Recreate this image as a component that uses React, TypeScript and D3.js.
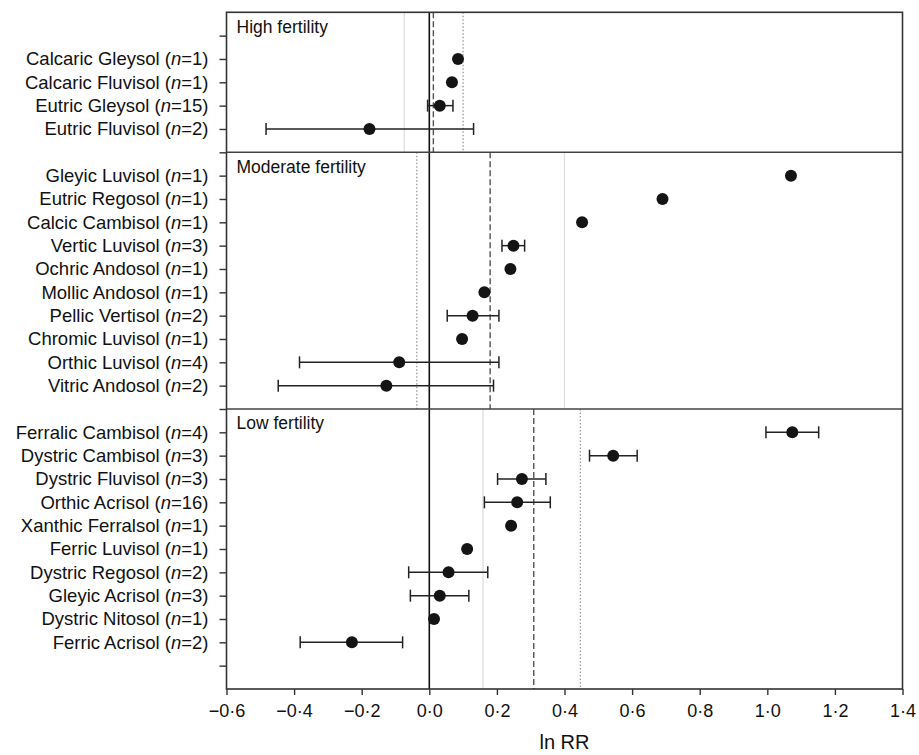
// @ts-nocheck
import { useRef, useEffect } from "react";
import * as d3 from "d3";

// high fertility soils
const highLabels = ["Calcaric Gleysol", "Calcaric Fluvisol", "Eutric Gleysol", "Eutric Fluvisol"];
const highN = [1, 1, 15, 2];
const highMean = [0.085, 0.067, 0.031, -0.177];
const highLower = [null, null, -0.005, -0.483];
const highUpper = [null, null, 0.07, 0.131];
const highRef = [0.012, -0.074, 0.1]; // mean, lower CI, upper CI

// moderate fertility soils
const modLabels = [
  "Gleyic Luvisol", "Eutric Regosol", "Calcic Cambisol", "Vertic Luvisol", "Ochric Andosol",
  "Mollic Andosol", "Pellic Vertisol", "Chromic Luvisol", "Orthic Luvisol", "Vitric Andosol",
];
const modN = [1, 1, 1, 3, 1, 1, 2, 1, 4, 2];
const modMean = [1.07, 0.69, 0.452, 0.249, 0.24, 0.163, 0.128, 0.097, -0.089, -0.127];
const modLower = [null, null, null, 0.215, null, null, 0.053, null, -0.384, -0.447];
const modUpper = [null, null, null, 0.282, null, null, 0.206, null, 0.206, 0.19];
const modRef = [0.18, -0.037, 0.4];

// low fertility soils
const lowLabels = [
  "Ferralic Cambisol", "Dystric Cambisol", "Dystric Fluvisol", "Orthic Acrisol", "Xanthic Ferralsol",
  "Ferric Luvisol", "Dystric Regosol", "Gleyic Acrisol", "Dystric Nitosol", "Ferric Acrisol",
];
const lowN = [4, 3, 3, 16, 1, 1, 2, 3, 1, 2];
const lowMean = [1.074, 0.544, 0.274, 0.26, 0.242, 0.112, 0.057, 0.031, 0.014, -0.229];
const lowLower = [0.996, 0.474, 0.202, 0.163, null, null, -0.061, -0.056, null, -0.382];
const lowUpper = [1.152, 0.615, 0.345, 0.358, null, null, 0.173, 0.117, null, -0.079];
const lowRef = [0.309, 0.159, 0.447];

const panelTitles = ["High fertility", "Moderate fertility", "Low fertility"];
const xTicks = [-0.6, -0.4, -0.2, 0, 0.2, 0.4, 0.6, 0.8, 1.0, 1.2, 1.4];

const FONT = "'Liberation Sans', Arial, Helvetica, sans-serif";

const ForestPlot = ({ width = 919, height = 755 }) => {
  const svgRef = useRef();

  useEffect(() => {
    const svg = d3.select(svgRef.current);
    svg.selectAll("*").remove();

    const panels = [
      { title: panelTitles[0], labels: highLabels, n: highN, mean: highMean, lo: highLower, hi: highUpper, ref: highRef, padTop: 2, padBottom: 1 },
      { title: panelTitles[1], labels: modLabels, n: modN, mean: modMean, lo: modLower, hi: modUpper, ref: modRef, padTop: 1, padBottom: 1 },
      { title: panelTitles[2], labels: lowLabels, n: lowN, mean: lowMean, lo: lowLower, hi: lowUpper, ref: lowRef, padTop: 1, padBottom: 2 },
    ];

    // work out slot positions for each panel
    let slot = 0;
    const rows = [];
    panels.forEach((p) => {
      p.start = slot;
      p.labels.forEach((lab, i) => {
        rows.push({ slot: slot + p.padTop + i, label: lab, n: p.n[i], mean: p.mean[i], lo: p.lo[i], hi: p.hi[i] });
      });
      slot += p.padTop + p.labels.length + p.padBottom - 1;
      p.end = slot;
    });
    const totalSlots = slot;

    const left = 226.5, right = 902.5, top = 12.3, bottom = 689;

    const x = d3.scaleLinear().domain([-0.6, 1.4]).range([left, right]);
    const y = d3.scaleLinear().domain([0, totalSlots]).range([top, bottom]);

    const labelBySlot = new Map(rows.map((r) => [r.slot, r]));

    // reference lines per panel
    panels.forEach((p) => {
      const y0 = y(p.start), y1 = y(p.end);
      const [m, ciLo, ciHi] = p.ref;
      // one CI line is faint in the original, the other dotted
      const faint = p.start === 0 || p.end === totalSlots ? ciLo : ciHi;
      const dotted = faint === ciLo ? ciHi : ciLo;
      svg.append("line")
        .attr("x1", x(faint)).attr("x2", x(faint))
        .attr("y1", y0).attr("y2", y1)
        .attr("stroke", "#dcdcdc").attr("stroke-width", 1.2);
      svg.append("line")
        .attr("x1", x(dotted)).attr("x2", x(dotted))
        .attr("y1", y0).attr("y2", y1)
        .attr("stroke", "#9a9a9a").attr("stroke-width", 1.3)
        .attr("stroke-dasharray", "1.5,2");
      svg.append("line")
        .attr("x1", x(m)).attr("x2", x(m))
        .attr("y1", y0).attr("y2", y1)
        .attr("stroke", "#555").attr("stroke-width", 1.4)
        .attr("stroke-dasharray", "6,3");
    });

    // zero line
    svg.append("line")
      .attr("x1", x(0)).attr("x2", x(0))
      .attr("y1", top).attr("y2", bottom)
      .attr("stroke", "#111").attr("stroke-width", 1.6);

    // frame + panel dividers
    svg.append("rect")
      .attr("x", left).attr("y", top)
      .attr("width", right - left).attr("height", bottom - top)
      .attr("fill", "none").attr("stroke", "#333").attr("stroke-width", 1.6);

    panels.slice(0, -1).forEach((p) => {
      svg.append("line")
        .attr("x1", left).attr("x2", right)
        .attr("y1", y(p.end)).attr("y2", y(p.end))
        .attr("stroke", "#444").attr("stroke-width", 1.4);
    });

    // panel titles
    panels.forEach((p) => {
      svg.append("text")
        .attr("x", left + 10)
        .attr("y", y(p.start) + 14.5)
        .attr("dominant-baseline", "central")
        .attr("font-family", FONT)
        .attr("font-size", 17.5)
        .attr("fill", "#111")
        .text(p.title);
    });

    // error bars
    const withBars = rows.filter((r) => r.lo != null);
    const bars = svg.append("g").attr("stroke", "#222").attr("stroke-width", 1.5);
    withBars.forEach((r) => {
      const cy = y(r.slot);
      bars.append("line").attr("x1", x(r.lo)).attr("x2", x(r.hi)).attr("y1", cy).attr("y2", cy);
      bars.append("line").attr("x1", x(r.lo)).attr("x2", x(r.lo)).attr("y1", cy - 6).attr("y2", cy + 6);
      bars.append("line").attr("x1", x(r.hi)).attr("x2", x(r.hi)).attr("y1", cy - 6).attr("y2", cy + 6);
    });

    // points
    svg.append("g")
      .selectAll("circle")
      .data(rows)
      .enter()
      .append("circle")
      .attr("cx", (d) => x(d.mean))
      .attr("cy", (d) => y(d.slot))
      .attr("r", 6)
      .attr("fill", "#141414");

    // y axis
    const yAxis = svg.append("g")
      .attr("transform", `translate(${left},0)`)
      .call(
        d3.axisLeft(y)
          .tickValues(d3.range(1, totalSlots))
          .tickSize(7)
          .tickSizeOuter(0)
          .tickPadding(11)
          .tickFormat(() => "")
      );
    yAxis.select(".domain").remove();
    yAxis.selectAll(".tick line").attr("stroke", "#333").attr("stroke-width", 1.4);
    yAxis.selectAll(".tick text").each(function (d) {
      const r = labelBySlot.get(d);
      if (!r) return;
      const t = d3.select(this)
        .attr("font-family", FONT)
        .attr("font-size", 18.5)
        .attr("fill", "#111");
      t.append("tspan").text(`${r.label} (`);
      t.append("tspan").attr("font-style", "italic").text("n");
      t.append("tspan").text(`=${r.n})`);
    });

    // x axis
    const xAxis = svg.append("g")
      .attr("transform", `translate(0,${bottom})`)
      .call(
        d3.axisBottom(x)
          .tickValues(xTicks)
          .tickSize(6)
          .tickSizeOuter(0)
          .tickPadding(9)
          .tickFormat((d) => d3.format(".1f")(d).replace(".", "·"))
      );
    xAxis.select(".domain").remove();
    xAxis.selectAll(".tick line").attr("stroke", "#333").attr("stroke-width", 1.4);
    xAxis.selectAll(".tick text")
      .attr("font-family", FONT)
      .attr("font-size", 18)
      .attr("fill", "#111");

    svg.append("text")
      .attr("x", (left + right) / 2)
      .attr("y", 742)
      .attr("text-anchor", "middle")
      .attr("dominant-baseline", "central")
      .attr("font-family", FONT)
      .attr("font-size", 20)
      .attr("fill", "#111")
      .text("ln RR");
  }, [width, height]);

  return (
    <svg
      ref={svgRef}
      width={width}
      height={height}
      style={{ position: "absolute", left: 0, top: 0, background: "#fff" }}
    ></svg>
  );
};

export default function App() {
  return <ForestPlot />;
}
